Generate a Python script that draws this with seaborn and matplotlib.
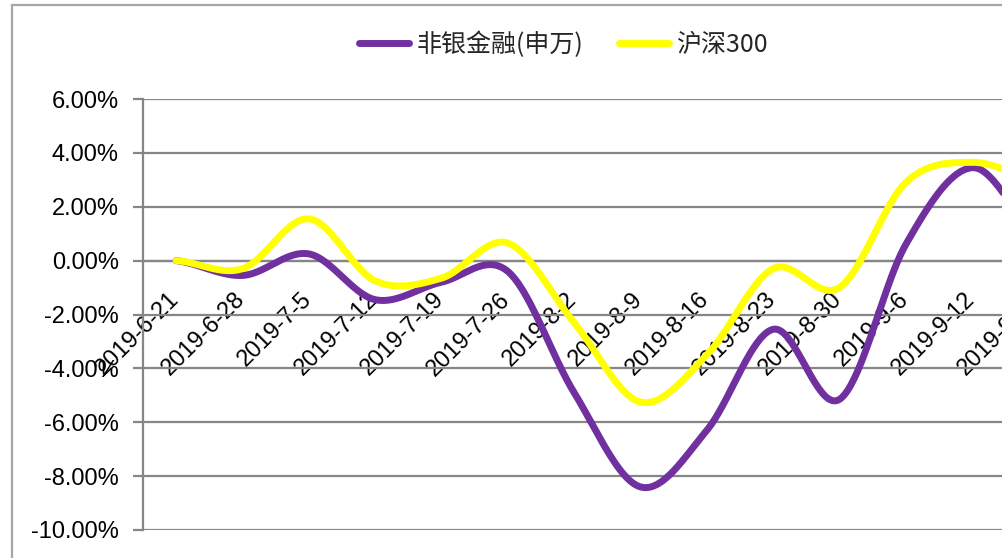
import numpy as np
import pandas as pd
import matplotlib
matplotlib.use("Agg")
import matplotlib.pyplot as plt
import matplotlib.transforms as mtransforms
import seaborn as sns
from matplotlib.patches import Rectangle

# ---- data (percent) ----
dates = ['2019-6-21', '2019-6-28', '2019-7-5', '2019-7-12', '2019-7-19',
         '2019-7-26', '2019-8-2', '2019-8-9', '2019-8-16', '2019-8-23',
         '2019-8-30', '2019-9-6', '2019-9-12', '2019-9-20']
nonbank = [0.00, -0.55, 0.25, -1.45, -0.80, -0.40, -4.90, -8.40, -6.30,
           -2.55, -5.15, 0.60, 3.45, 1.00]
hs300 = [0.00, -0.30, 1.55, -0.75, -0.65, 0.65, -2.30, -5.25, -3.50,
         -0.30, -1.00, 2.90, 3.65, 3.00]
series_names = ['非银金融(申万)', '沪深300']
series_colors = ['#7030A0', '#FFFF00']
yticks = [-10, -8, -6, -4, -2, 0, 2, 4, 6]


def smooth(vals, n=40):
    """Excel-style (Catmull-Rom Bezier) smoothing for rendering."""
    p = np.asarray(vals, float)
    m = len(p)
    ext = np.concatenate([[p[0]], p, [p[-1]]])
    xs, ys = [], []
    for i in range(m - 1):
        p0, p1, p2, p3 = ext[i], ext[i + 1], ext[i + 2], ext[i + 3]
        c1 = p1 + (p2 - p0) / 6.0
        c2 = p2 - (p3 - p1) / 6.0
        t = np.linspace(0, 1, n, endpoint=(i == m - 2))
        b = ((1 - t) ** 3) * p1 + 3 * ((1 - t) ** 2) * t * c1 + 3 * (1 - t) * t ** 2 * c2 + t ** 3 * p2
        xs.append(i + t)
        ys.append(b)
    return np.concatenate(xs), np.concatenate(ys)


sns.set_theme(style="white")
plt.rcParams['font.family'] = ['Liberation Sans', 'Noto Sans CJK SC', 'DejaVu Sans']

W, H = 1003, 558
fig = plt.figure(figsize=(W / 100, H / 100), dpi=100)
fig.patch.set_facecolor('white')

n = len(dates)
step = 66.33
left_px, top_px, bot_px = 143, 99, 530
ax = fig.add_axes([left_px / W, (H - bot_px) / H, step * n / W, (bot_px - top_px) / H])
ax.set_facecolor('white')

grid_col = '#868686'

frames = []
for name, vals in zip(series_names, [nonbank, hs300]):
    sx, sy = smooth(vals)
    frames.append(pd.DataFrame({'x': sx, 'y': sy, 'series': name}))
df = pd.concat(frames, ignore_index=True)

for name, col in zip(series_names, series_colors):
    sub = df[df['series'] == name]
    sns.lineplot(data=sub, x='x', y='y', sort=False, estimator=None, color=col,
                 linewidth=4.3, ax=ax, label=name, solid_capstyle='round', zorder=3)

ax.set_xlim(-0.5, n - 0.5)
ax.set_ylim(-10, 6)
ax.set_yticks(yticks)
ax.set_yticklabels([f'{v:.2f}%' for v in yticks])
ax.set_xlabel('')
ax.set_ylabel('')

ax.grid(axis='y', color=grid_col, linewidth=1.6)
ax.grid(axis='x', visible=False)
ax.set_axisbelow(True)

for s in ['top', 'right']:
    ax.spines[s].set_visible(False)
ax.spines['left'].set_color(grid_col)
ax.spines['left'].set_linewidth(1.6)
ax.spines['bottom'].set_position(('data', 0))
ax.spines['bottom'].set_color(grid_col)
ax.spines['bottom'].set_linewidth(1.6)

# category ticks: marks between categories, labels at categories
ax.set_xticks(np.arange(n))
ax.set_xticks(np.arange(n + 1) - 0.5, minor=True)
ax.set_xticklabels(dates, rotation=45, ha='right', va='top', rotation_mode='default')
ax.tick_params(axis='x', which='major', length=0, pad=20, labelsize=17, labelcolor='black')
ax.tick_params(axis='x', which='minor', length=7, width=1.6, color=grid_col, direction='out')
ax.tick_params(axis='y', which='major', left=True, length=7.5, width=1.6, color=grid_col,
               pad=10, labelsize=17, labelcolor='black')
offset = mtransforms.ScaledTranslation(7 / 100, 0, fig.dpi_scale_trans)
for lbl in ax.get_xticklabels():
    lbl.set_transform(lbl.get_transform() + offset)

# legend
leg = ax.get_legend()
if leg is not None:
    leg.remove()
handles, labels = ax.get_legend_handles_labels()
for h in handles:
    h.set_linewidth(5)
fig.legend(handles, labels, loc='center', bbox_to_anchor=(0.562, 1 - 45 / H), ncol=2,
           frameon=False, handlelength=2.0, handletextpad=0.3,
           columnspacing=1.4, prop={'family': ['Noto Sans CJK SC', 'DejaVu Sans'], 'size': 18})

# outer chart border (right/bottom cut off by the image edge)
fig.patches.append(Rectangle((12 / W, -0.1), 1.2, 1 - 5 / H + 0.1, transform=fig.transFigure,
                             fill=False, edgecolor='#A6A6A6', linewidth=1.6, zorder=0))

fig.savefig('out.png', dpi=100)
